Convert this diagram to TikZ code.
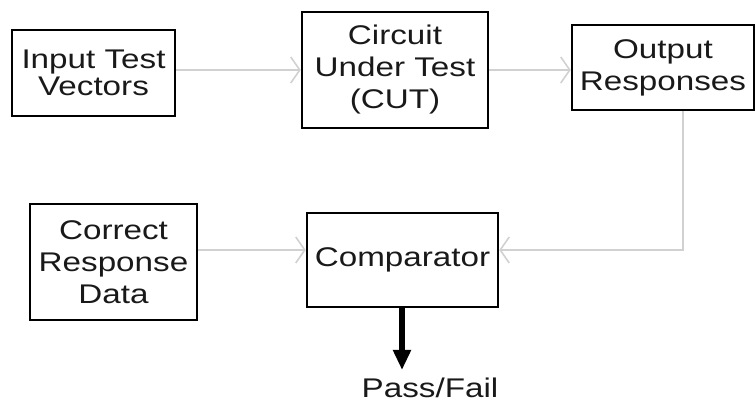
\documentclass[tikz,border=0pt]{standalone}
\usepackage{fontspec}
\setmainfont{Liberation Sans}[FakeStretch=1.23]
\usetikzlibrary{arrows.meta}
\begin{document}
\begin{tikzpicture}[x=1pt,y=-1pt,
  blk/.style={draw=black, line width=2.5pt, inner sep=0pt, align=center,
    font=\fontsize{27}{32}\selectfont, text=black!90},
  conn/.style={draw=black!18, line width=1.8pt,
    -{Straight Barb[length=9pt,width=26pt,line width=1.6pt]}},
  thick arrow/.style={draw=black, line width=6pt,
    -{Triangle[length=20pt,width=17pt]}},
  lbl/.style={font=\fontsize{27}{32}\selectfont, text=black!90, inner sep=0pt}]
\useasboundingbox (0,0) rectangle (756,403);
\node[blk, minimum width=163pt, minimum height=86pt] (inp) at (93.5,73)
  {Input Test\\[-5pt]Vectors};
\node[blk, minimum width=186pt, minimum height=116pt] (cut) at (395,70)
  {Circuit\\Under Test\\(CUT)};
\node[blk, minimum width=182pt, minimum height=85pt] (out) at (663,67.5)
  {Output\\Responses};
\node[blk, minimum width=167pt, minimum height=116pt] (crd) at (113.5,262)
  {Correct\\Response\\Data};
\node[blk, minimum width=191pt, minimum height=94pt] (cmp) at (402.5,260)
  {Comparator};
\node[lbl, anchor=base] (pf) at (430,398) {Pass/Fail};
\coordinate (bend) at (683,250);
\coordinate (pfend) at (402,370);
\draw[conn] (inp.east |- 0,70) -- (cut.west |- 0,70);
\draw[conn] (cut.east |- 0,70) -- (out.west |- 0,70);
\draw[conn] (out.south -| bend) -- (bend) -- (cmp.east |- bend);
\draw[conn] (crd.east |- bend) -- (cmp.west |- bend);
\draw[thick arrow] (cmp.south -| pfend) -- (pfend);
\end{tikzpicture}
\end{document}
